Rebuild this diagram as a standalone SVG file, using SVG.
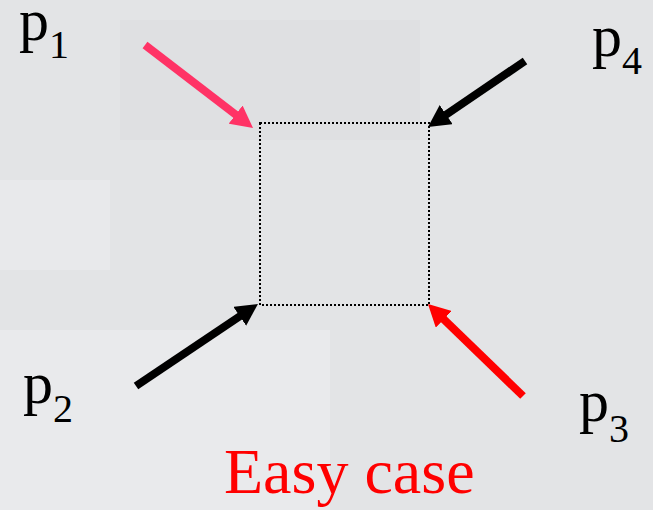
<svg xmlns="http://www.w3.org/2000/svg" width="653" height="510" viewBox="0 0 653 510">
  <style>
    .lbl { font-family: 'Liberation Serif', 'Times New Roman', serif; font-size: 60px; fill: #000; }
    .sub { font-size: 40px; }
    .arrow { stroke-width: 8; fill: none; stroke-linecap: butt; }
    .title { font-family: 'Liberation Serif', 'Times New Roman', serif; font-size: 64px; fill: #ff0000; }
  </style>
  <defs>
    <marker id="head-pink" markerUnits="userSpaceOnUse" markerWidth="22" markerHeight="23" refX="10" refY="11.5" orient="auto">
      <path d="M0,0 L22,11.5 L0,23 z" fill="#ff3366"/>
    </marker>
    <marker id="head-black" markerUnits="userSpaceOnUse" markerWidth="22" markerHeight="23" refX="10" refY="11.5" orient="auto">
      <path d="M0,0 L22,11.5 L0,23 z" fill="#000"/>
    </marker>
    <marker id="head-red" markerUnits="userSpaceOnUse" markerWidth="22" markerHeight="23" refX="10" refY="11.5" orient="auto">
      <path d="M0,0 L22,11.5 L0,23 z" fill="#ff0000"/>
    </marker>
  </defs>

  <g id="background">
    <rect x="0" y="0" width="653" height="510" fill="#e3e4e6"/>
    <rect x="0" y="330" width="330" height="180" fill="#e9eaec"/>
    <rect x="0" y="180" width="110" height="90" fill="#e8e9eb"/>
    <rect x="120" y="20" width="300" height="120" fill="#dfe0e2"/>
  </g>

  <g id="box">
    <rect x="260" y="123" width="169" height="182" fill="none" stroke="#000" stroke-width="2" stroke-dasharray="2 2"/>
  </g>

  <g id="connectors">
    <path class="arrow" d="M145,45 L243.5,120.7" stroke="#ff3366" marker-end="url(#head-pink)"/>
    <path class="arrow" d="M525,61 L437.9,120.2" stroke="#000" marker-end="url(#head-black)"/>
    <path class="arrow" d="M136,386 L248,310.7" stroke="#000" marker-end="url(#head-black)"/>
    <path class="arrow" d="M523,396 L436.6,312.4" stroke="#ff0000" marker-end="url(#head-red)"/>
  </g>

  <g id="p1"><text class="lbl" x="19" y="40">p<tspan class="sub" dy="18">1</tspan></text></g>
  <g id="p4"><text class="lbl" x="592" y="56">p<tspan class="sub" dy="18">4</tspan></text></g>
  <g id="p2"><text class="lbl" x="23" y="403">p<tspan class="sub" dy="19">2</tspan></text></g>
  <g id="p3"><text class="lbl" x="579" y="421">p<tspan class="sub" dy="21">3</tspan></text></g>

  <g id="title"><text class="title" x="224" y="493">Easy case</text></g>
</svg>
